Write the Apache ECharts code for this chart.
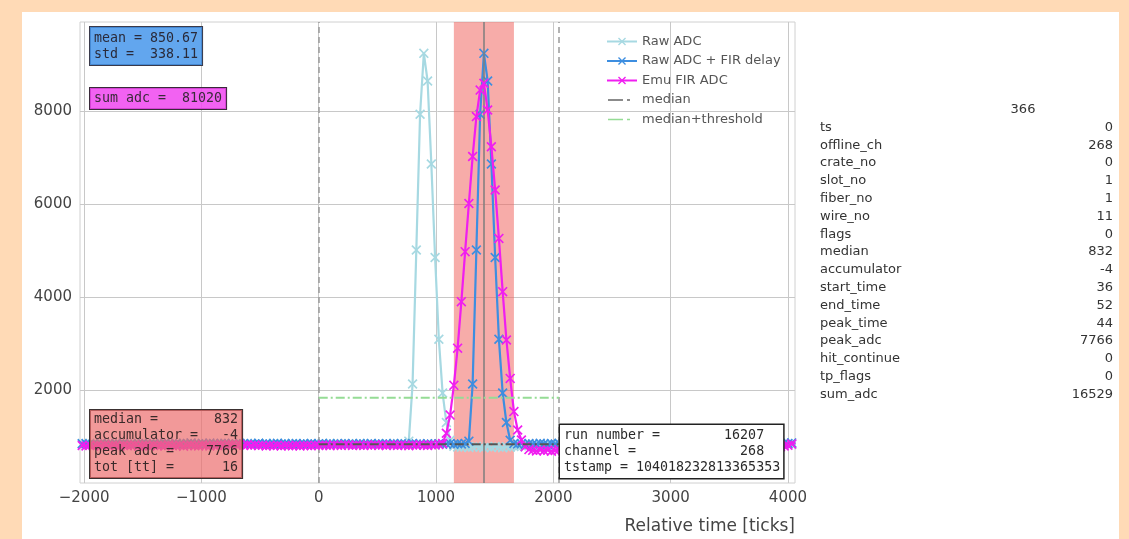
<!DOCTYPE html>
<html><head><meta charset="utf-8">
<script src="https://cdn.jsdelivr.net/npm/echarts@6/dist/echarts.min.js"></script>
<style>
html,body{margin:0;padding:0;background:#FFDAB6;width:1129px;height:539px;overflow:hidden;}
#panel{position:absolute;left:22px;top:12px;width:1097px;height:527px;background:#ffffff;}
#chart{position:absolute;left:0;top:0;width:1129px;height:539px;}
</style></head><body><div id="panel"></div><div id="chart"></div>
<script>
// ---- sampling grid (relative time of first sample, sample period in ticks)
const sampleStart = -2016;
const samplePeriod = 32;

// ---- Raw ADC (light blue)
const rawAdc = [
  848,835,853,840,846,831,857,842,838,850, 836,845,852,833,847,841,856,837,843,849,
  839,854,832,846,851,838,844,859,835,848, 842,836,853,845,830,849,841,857,838,846,
  852,834,847,840,855,837,843,850,831,846, 839,853,836,844,848,833,851,842,838,845,
  836,849,841,832,847,838,853,843,835,850, 840,846,831,844,852,837,842,848,834,845,
  839,851,836,843,847,833,841,
  900,2130,5010,7930,9240,8645,6860,4850,3090,1935,1300,920,
  792,776,768,781,763,774,785,770,758,779, 766,783,772,760,777,769,786,774,
  805,818,799,826,811,803,821,814,797,829, 808,816,823,801,812,827,806,819,795,813,
  824,809,817,802,828,811,804,820,815,798, 826,810,818,805,822,813,800,825,808,816,
  803,821,812,829,807,815,799,823,810,818, 806,827,814,801,820,809,824,811,817,804,
  828,813,819,807,822,812,830,816,825,833, 821,838,829,842
];

// ---- Raw ADC + FIR delay (blue)
const rawAdcDelayed = [
  842,851,836,848,829,857,839,846,833,852, 840,861,835,844,830,849,856,838,843,850,
  834,847,859,841,837,853,845,831,848,862, 839,844,851,836,858,847,833,849,855,840,
  846,838,852,843,835,850,841,856,837,848, 832,845,853,839,847,830,842,851,836,844,
  839,848,833,845,851,837,842,829,846,838, 850,835,843,831,847,840,836,849,834,842,
  838,845,831,847,836,843,840,834,848,837, 842,830,846,839,835,844,832,841,847,836,
  843,838,852,
  900,2130,5010,7930,9240,8645,6860,4850,3090,1935,1300,920,
  852,838,846,833,849,841,836,853,844,830, 847,839,855,842,835,850,837,845,858,840,
  833,849,843,836,852,845,831,848,839,856, 842,834,850,846,837,853,840,832,847,843,
  859,838,845,851,835,848,842,836,854,839, 846,832,850,843,837,855,841,848,834,852,
  845,838,849,840,856,843,836,851,845,839, 853,847,858,850,862,855
];

// ---- Emu FIR ADC (magenta)
const emuFirAdc = [
  805,798,812,794,808,801,815,796,809,803, 790,811,799,806,817,793,804,810,797,813,
  800,807,795,816,803,798,811,792,806,814, 801,797,819,808,795,812,804,821,810,818,
  825,815,828,812,822,809,817,804,811,798, 806,800,813,795,808,802,799,811,796,805,
  809,800,814,806,818,811,803,820,813,808, 822,815,807,819,811,804,817,812,823,809,
  816,806,821,812,808,819,814,803,817,810, 824,813,807,820,815,826,
  850,1070,1460,2100,2900,3900,4975,6010,7020,7880,8450,8598,8020,7230,6300,5260,4115,3075,2250,1535,1140,925,780,
  718,702,689,711,695,706,684,699,713,691, 704,687,716,698,708,681,694,710,700,686,
  712,697,705,683,701,715,692,707,688,703, 696,714,685,709,699,690,717,702,693,711,
  684,706,698,719,689,704,695,712,700,687, 708,693,716,701,691,710,697,705,714,699,
  720,709,726,731,745,752,768,781,796,812, 838,855
];

// ---- reference levels / windows
const medianValue = 832;
const thresholdValue = 1832;
const windowStart = 0, windowEnd = 2048;
const hitStart = 1152, hitEnd = 1664, hitPeak = 1408;

// ---- axes
const xTicks = [-2000, -1000, 0, 1000, 2000, 3000, 4000];
const yTicks = [2000, 4000, 6000, 8000];
const xRange = [-2035, 4060];
const yRange = [0, 9914];

// ---- legend names
const seriesNames = ['Raw ADC', 'Raw ADC + FIR delay', 'Emu FIR ADC', 'median', 'median+threshold'];

// ---- text boxes
const statsBox = ['mean = 850.67', 'std =  338.11'];
const sumBox = ['sum adc =  81020'];
const hitBox = ['median =       832', 'accumulator =   -4', 'peak adc =    7766', 'tot [tt] =      16'];
const runBox = ['run number =        16207', 'channel =             268', 'tstamp = 104018232813365353'];

// ---- right table
const tableTitle = '366';
const tableLabels = ['ts','offline_ch','crate_no','slot_no','fiber_no','wire_no','flags','median','accumulator','start_time','end_time','peak_time','peak_adc','hit_continue','tp_flags','sum_adc'];
const tableValues = ['0','268','0','1','1','11','0','832','-4','36','52','44','7766','0','0','16529'];

const toPairs = arr => arr.map((v, i) => [sampleStart + i * samplePeriod, v]);
const X = 'path://M0,1.2L1.2,0L5,3.8L8.8,0L10,1.2L6.2,5L10,8.8L8.8,10L5,6.2L1.2,10L0,8.8L3.8,5Z';
const DASHDOT_ICON = 'path://M0,0L0.01,0L0.01,0.01ZM0,4.2L15,4.2L15,5.8L0,5.8ZM19,4.2L22,4.2L22,5.8L19,5.8ZM0,10L0.01,10L0.01,9.99ZM28,5L28.01,5L28.01,5.01Z';

const chart = echarts.init(document.getElementById('chart'), null, {renderer: 'canvas', width: 1129, height: 539});

const mono = '13.3px "DejaVu Sans Mono"';
const sans = '"DejaVu Sans"';

const graphics = [
  {type: 'text', x: 90, y: 27, z: 100, style: {text: statsBox.join('\n'), font: mono, fill: '#2a2a3a', lineHeight: 16.5,
    backgroundColor: 'rgba(70,150,235,0.85)', borderColor: '#3a3a4a', borderWidth: 1, padding: [3, 4, 2, 4]}},
  {type: 'text', x: 90, y: 88, z: 100, style: {text: sumBox.join('\n'), font: mono, fill: '#3a2a3a', lineHeight: 17,
    backgroundColor: 'rgba(240,70,240,0.85)', borderColor: '#3a2a3a', borderWidth: 1, padding: [2, 4, 2, 4]}},
  {type: 'text', x: 90, y: 410, z: 100, style: {text: hitBox.join('\n'), font: mono, fill: '#3a2a2a', lineHeight: 16,
    backgroundColor: 'rgba(236,110,110,0.7)', borderColor: '#3a3030', borderWidth: 1, padding: [2, 4, 2, 4]}},
  {type: 'text', x: 560, y: 425, z: 100, style: {text: runBox.join('\n'), font: mono, fill: '#2a2a2a', lineHeight: 16,
    backgroundColor: '#ffffff', borderColor: '#222', borderWidth: 1.5, padding: [3, 3, 2, 4]}},
  {type: 'text', x: 1023, y: 110, z: 100, style: {text: tableTitle, font: '13px ' + sans, fill: '#333', align: 'center', verticalAlign: 'middle'}},
  {type: 'text', x: 795, y: 527, z: 100, style: {text: 'Relative time [ticks]', font: '17px ' + sans, fill: '#444', align: 'right', verticalAlign: 'middle'}}
];
tableLabels.forEach((lab, i) => {
  const y = 127.5 + i * 17.8;
  graphics.push({type: 'text', x: 820, y: y, z: 100, style: {text: lab, font: '13px ' + sans, fill: '#333', align: 'left', verticalAlign: 'middle'}});
  graphics.push({type: 'text', x: 1113, y: y, z: 100, style: {text: tableValues[i], font: '13px ' + sans, fill: '#333', align: 'right', verticalAlign: 'middle'}});
});

const lineSeries = (name, data, color, z) => ({
  name, type: 'line', data: toPairs(data), z, symbol: X, symbolSize: 10, showSymbol: true, showAllSymbol: true,
  lineStyle: {color, width: 2.2}, itemStyle: {color}, emphasis: {disabled: true}, animation: false
});

chart.setOption({
  animation: false,
  backgroundColor: 'transparent',
  textStyle: {fontFamily: 'DejaVu Sans'},
  grid: {left: 80, top: 22, width: 715, height: 461, show: true, borderColor: '#d0d0d0', borderWidth: 1, backgroundColor: 'transparent'},
  xAxis: {
    type: 'value', min: xRange[0], max: xRange[1],
    axisLine: {show: false}, axisTick: {show: false, customValues: xTicks},
    axisLabel: {customValues: xTicks, fontSize: 15, color: '#444', margin: 8, formatter: v => String(v).replace('-', '\u2212')},
    splitLine: {show: true, lineStyle: {color: '#c8c8c8', width: 1}}
  },
  yAxis: {
    type: 'value', min: yRange[0], max: yRange[1],
    axisLine: {show: false}, axisTick: {show: false, customValues: yTicks},
    axisLabel: {customValues: yTicks, fontSize: 15, color: '#444', margin: 8, formatter: v => String(v)},
    splitLine: {show: true, lineStyle: {color: '#c8c8c8', width: 1}}
  },
  legend: {
    data: [
      {name: seriesNames[0]}, {name: seriesNames[1]}, {name: seriesNames[2]},
      {name: seriesNames[3], icon: DASHDOT_ICON}, {name: seriesNames[4], icon: DASHDOT_ICON}
    ],
    orient: 'vertical', left: 606, top: 35, padding: 0,
    itemWidth: 30, itemHeight: 10, itemGap: 6.5,
    textStyle: {fontSize: 13, color: '#555', fontFamily: 'DejaVu Sans'}
  },
  graphic: graphics,
  series: [
    {
      name: 'markers', type: 'line', data: [], z: 1, silent: true,
      markArea: {silent: true, itemStyle: {color: 'rgba(240,95,90,0.52)'}, data: [[{xAxis: hitStart}, {xAxis: hitEnd}]]},
      markLine: {silent: true, symbol: 'none', label: {show: false}, animation: false,
        data: [
          {xAxis: windowStart, lineStyle: {color: '#9a9a9a', type: [6, 4], width: 1.5}},
          {xAxis: windowEnd, lineStyle: {color: '#9a9a9a', type: [6, 4], width: 1.5}},
          {xAxis: hitPeak, lineStyle: {color: '#7e7e7e', type: 'solid', width: 1.5}}
        ]}
    },
    lineSeries('Raw ADC', rawAdc, '#a7d9e2', 3),
    lineSeries('Raw ADC + FIR delay', rawAdcDelayed, '#3d8ee0', 4),
    lineSeries('Emu FIR ADC', emuFirAdc, '#f01ef0', 5),
    {name: 'median', type: 'line', z: 6, symbol: 'none', data: [[windowStart, medianValue], [windowEnd, medianValue]],
      lineStyle: {color: '#555', width: 2, type: [9, 3, 2, 3]}, itemStyle: {color: '#666'}, emphasis: {disabled: true}},
    {name: 'median+threshold', type: 'line', z: 6, symbol: 'none', data: [[windowStart, thresholdValue], [windowEnd, thresholdValue]],
      lineStyle: {color: '#95dc95', width: 2, type: [9, 3, 2, 3]}, itemStyle: {color: '#95dc95'}, emphasis: {disabled: true}}
  ]
});
</script></body></html>
